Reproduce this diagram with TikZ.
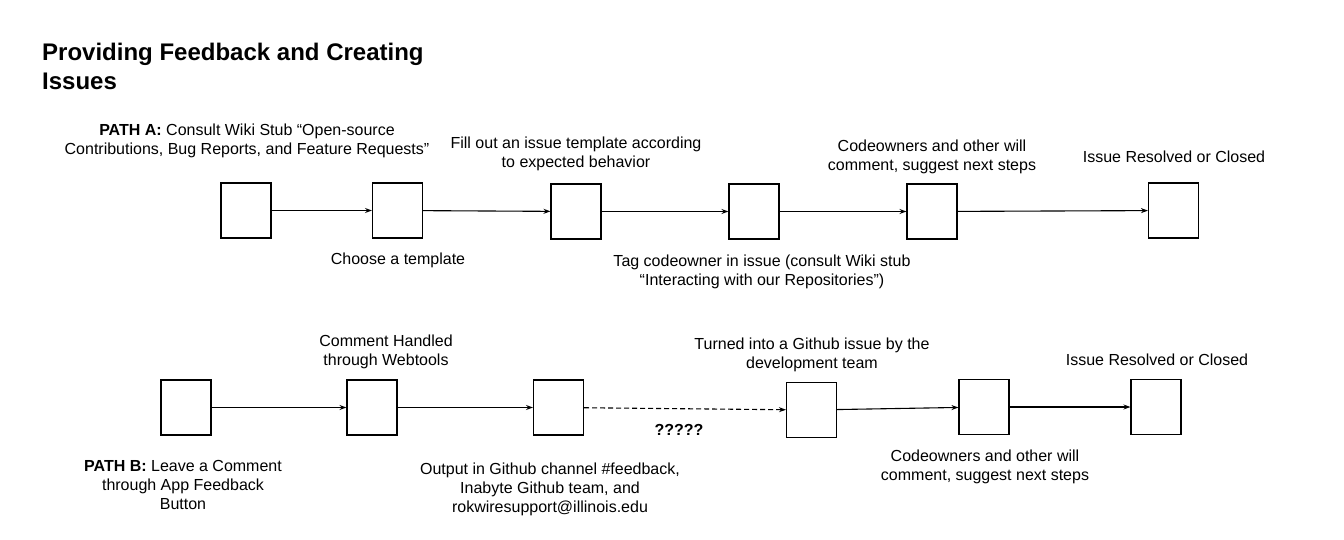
\documentclass[tikz,border=0pt]{standalone}
\usepackage{fontspec}
\setmainfont{Liberation Sans}
\usetikzlibrary{arrows.meta}
\begin{document}
\begin{tikzpicture}[x=1pt,y=-1pt,
  stepbox/.style={draw,line width=1.1pt,minimum width=50pt,minimum height=55pt,inner sep=0pt},
  lbl/.style={align=center,inner sep=0pt,font=\fontsize{16}{19}\selectfont},
  conn/.style={line width=1.1pt,-{Stealth[length=7pt,width=5pt]}}]
\useasboundingbox (0,0) rectangle (1344,540);
% title
\node[anchor=west,inner sep=0pt,align=left,font=\fontsize{24}{29}\bfseries] (title) at (42,66) {Providing Feedback and Creating\\Issues};
% path A boxes
\node[stepbox] (a1) at (246,210.5) {};
\node[stepbox] (a2) at (397.5,210.5) {};
\node[stepbox] (a3) at (576,211.5) {};
\node[stepbox] (a4) at (754,211.5) {};
\node[stepbox] (a5) at (932,211.5) {};
\node[stepbox] (a6) at (1173.5,210.5) {};
\draw[conn] (a1) -- (a2);
\draw[conn] (a2) -- (a3);
\draw[conn] (a3) -- (a4);
\draw[conn] (a4) -- (a5);
\draw[conn] (a5) -- (a6);
% path A labels
\node[lbl] (ta1) at (247,141) {\textbf{PATH A:} Consult Wiki Stub “Open-source\\Contributions, Bug Reports, and Feature Requests”};
\node[lbl] (ta2) at (398,260) {Choose a template};
\node[lbl] (ta3) at (576,154) {Fill out an issue template according\\to expected behavior};
\node[lbl] (ta4) at (762,272) {Tag codeowner in issue (consult Wiki stub\\“Interacting with our Repositories”)};
\node[lbl] (ta5) at (932,157) {Codeowners and other will\\comment, suggest next steps};
\node[lbl] (ta6) at (1174,157) {Issue Resolved or Closed};
% path B boxes
\node[stepbox] (b1) at (186,407.5) {};
\node[stepbox] (b2) at (372,407.5) {};
\node[stepbox] (b3) at (558.5,407.5) {};
\node[stepbox] (b4) at (811.5,410) {};
\node[stepbox] (b5) at (984,407) {};
\node[stepbox] (b6) at (1156,407) {};
\draw[conn] (b1) -- (b2);
\draw[conn] (b2) -- (b3);
\draw[conn,dash pattern=on 5pt off 3pt] (b3) -- (b4);
\draw[conn] (b4) -- (b5);
\draw[conn] (b5) -- (b6);
% path B labels
\node[lbl] (tb1) at (183,485) {\textbf{PATH B:} Leave a Comment\\through App Feedback\\Button};
\node[lbl] (tb2) at (386,352) {Comment Handled\\through Webtools};
\node[lbl] (tb3) at (550,489) {Output in Github channel \#feedback,\\Inabyte Github team, and\\rokwiresupport@illinois.edu};
\node[lbl,font=\fontsize{16}{19}\bfseries] (tq) at (679,430) {?????};
\node[lbl] (tb4) at (812,355) {Turned into a Github issue by the\\development team};
\node[lbl] (tb5) at (985,467) {Codeowners and other will\\comment, suggest next steps};
\node[lbl] (tb6) at (1157,360) {Issue Resolved or Closed};
\end{tikzpicture}
\end{document}
